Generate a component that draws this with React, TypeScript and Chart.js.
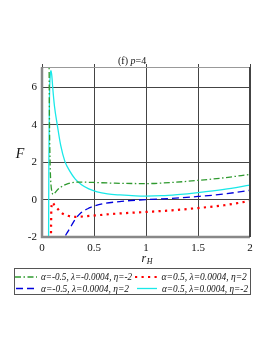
import React, { useEffect, useRef } from "react";
import { Chart, registerables } from "chart.js";

Chart.register(...registerables);

// r_H values and F values for each curve
const rGreen = [0.068, 0.072, 0.077, 0.082, 0.09, 0.1, 0.109, 0.12, 0.14, 0.173, 0.25, 0.365, 0.49, 0.7, 1.0, 1.25, 1.5, 1.75, 2.0];
const fGreen = [7.5, 4.0, 2.2, 1.2, 0.6, 0.33, 0.28, 0.33, 0.47, 0.64, 0.86, 0.94, 0.92, 0.88, 0.86, 0.92, 1.03, 1.17, 1.35];

const rRed = [0.085, 0.09, 0.1, 0.12, 0.141, 0.19, 0.24, 0.3, 0.4, 0.5, 0.72, 1.0, 1.25, 1.5, 1.75, 2.0];
const fRed = [-2.5, -0.5, -0.15, -0.3, -0.43, -0.72, -0.85, -0.92, -0.9, -0.85, -0.75, -0.66, -0.57, -0.45, -0.3, -0.07];

const rBlue = [0.2, 0.221, 0.25, 0.285, 0.32, 0.365, 0.46, 0.5, 0.6, 0.72, 0.85, 1.0, 1.25, 1.5, 1.75, 2.0];
const fBlue = [-2.5, -2.0, -1.7, -1.37, -1.05, -0.75, -0.43, -0.34, -0.2, -0.12, -0.05, 0.0, 0.07, 0.17, 0.3, 0.5];

const rCyan = [0.063, 0.066, 0.072, 0.08, 0.087, 0.095, 0.103, 0.12, 0.147, 0.18, 0.22, 0.27, 0.32, 0.38, 0.45, 0.53, 0.63, 0.75, 0.9, 1.0, 1.15, 1.3, 1.5, 1.75, 2.0];
const fCyan = [-2.5, 2.0, 5.5, 6.7, 6.9, 6.6, 6.0, 5.0, 4.0, 2.9, 2.05, 1.5, 1.1, 0.8, 0.58, 0.42, 0.31, 0.25, 0.2, 0.19, 0.21, 0.27, 0.38, 0.55, 0.78];

const xTicks = [0, 0.5, 1, 1.5, 2];
const yTicks = [-2, 0, 2, 4, 6];
const xMin = 0;
const xMax = 2;
const yMin = -2;
const yMax = 7.1;

const legendLabels = [
  "α=-0.5, λ=-0.0004, η=-2",
  "α=0.5, λ=0.0004, η=2",
  "α=-0.5, λ=0.0004, η=2",
  "α=0.5, λ=0.0004, η=-2",
];

const GREEN = "#2f9a2f";
const RED = "#ff0000";
const BLUE = "#0000dd";
const CYAN = "#19e8e8";

const SERIF = "'Liberation Serif', 'DejaVu Serif', serif";

const toPts = (xs: number[], ys: number[]) => xs.map((x, i) => ({ x, y: ys[i] }));

export default function App() {
  const ref = useRef<HTMLCanvasElement | null>(null);

  useEffect(() => {
    const canvas = ref.current;
    if (!canvas) return;

    const styles = [
      { color: GREEN, dash: [6, 2.5, 1.5, 2.5], width: 1.3 },
      { color: RED, dash: [2.2, 4.3], width: 2.2 },
      { color: BLUE, dash: [7, 4], width: 1.3 },
      { color: CYAN, dash: [], width: 1.3 },
    ];

    const decor = {
      id: "decor",
      afterDatasetsDraw(chart: any) {
        const ctx = chart.ctx;
        const a = chart.chartArea;
        const xs = chart.scales.x;
        ctx.save();
        ctx.strokeStyle = "#444";
        ctx.lineWidth = 1;
        xTicks.forEach((t) => {
          const px = Math.round(xs.getPixelForValue(t)) + 0.5;
          ctx.beginPath();
          ctx.moveTo(px, a.top - 3);
          ctx.lineTo(px, a.top);
          ctx.stroke();
        });
        ctx.strokeStyle = "#999";
        ctx.lineWidth = 1;
        ctx.beginPath();
        ctx.moveTo(a.left, a.top + 0.5);
        ctx.lineTo(a.right, a.top + 0.5);
        ctx.stroke();
        ctx.strokeStyle = "#888";
        ctx.lineWidth = 2.5;
        ctx.beginPath();
        ctx.moveTo(a.left, a.top);
        ctx.lineTo(a.left, a.bottom);
        ctx.lineTo(a.right, a.bottom);
        ctx.stroke();
        ctx.strokeStyle = "#444";
        ctx.lineWidth = 2;
        ctx.beginPath();
        ctx.moveTo(a.right, a.top);
        ctx.lineTo(a.right, a.bottom);
        ctx.stroke();
        ctx.restore();
      },
      afterDraw(chart: any) {
        const ctx = chart.ctx;
        ctx.save();
        ctx.fillStyle = "#111";
        ctx.textBaseline = "alphabetic";
        let x = 118;
        const ty = 64;
        ctx.font = `10px ${SERIF}`;
        ctx.fillText("(f) ", x, ty);
        x += ctx.measureText("(f) ").width;
        ctx.font = `italic 10px ${SERIF}`;
        ctx.fillText("p", x, ty);
        x += ctx.measureText("p").width;
        ctx.font = `10px ${SERIF}`;
        ctx.fillText("=4", x, ty);
        ctx.font = `italic 14px ${SERIF}`;
        ctx.textAlign = "center";
        ctx.fillText("F", 20, 158);
        ctx.textAlign = "left";
        ctx.font = `italic 12px ${SERIF}`;
        ctx.fillText("r", 141.5, 262);
        const rw = ctx.measureText("r").width;
        ctx.font = `italic 8px ${SERIF}`;
        ctx.fillText("H", 141.5 + rw + 0.5, 264);

        ctx.strokeStyle = "#555";
        ctx.lineWidth = 1;
        ctx.strokeRect(14.5, 268.5, 236, 26);
        const rows = [
          { y: 277, items: [{ s: 0, x0: 15, x1: 37, tx: 41, w: 91 }, { s: 1, x0: 135, x1: 158, tx: 161.5, w: 86 }] },
          { y: 288.5, items: [{ s: 2, x0: 16, x1: 37, tx: 41, w: 88 }, { s: 3, x0: 137, x1: 157, tx: 162, w: 86 }] },
        ];
        let li = 0;
        rows.forEach((row) => {
          row.items.forEach((it) => {
            const st = styles[it.s];
            ctx.strokeStyle = st.color;
            ctx.lineWidth = st.width;
            ctx.setLineDash(st.dash);
            ctx.beginPath();
            ctx.moveTo(it.x0, row.y);
            ctx.lineTo(it.x1, row.y);
            ctx.stroke();
            ctx.setLineDash([]);
            ctx.fillStyle = "#111";
            ctx.font = `italic 9.5px ${SERIF}`;
            ctx.textBaseline = "middle";
            ctx.fillText(legendLabels[li], it.tx, row.y + 0.5, it.w);
            li++;
          });
        });
        ctx.restore();
      },
    };

    const sets = [
      [rGreen, fGreen],
      [rRed, fRed],
      [rBlue, fBlue],
      [rCyan, fCyan],
    ];

    const chart = new Chart(canvas, {
      type: "line",
      data: {
        datasets: sets.map(([xs, ys], i) => ({
          label: legendLabels[i],
          data: toPts(xs as number[], ys as number[]),
          borderColor: styles[i].color,
          borderWidth: styles[i].width,
          borderDash: styles[i].dash,
          pointRadius: 0,
          fill: false,
          cubicInterpolationMode: "monotone" as const,
        })),
      },
      options: {
        animation: false,
        responsive: false,
        devicePixelRatio: 1,
        layout: { padding: { top: 67, right: 23, left: 0, bottom: 0 } },
        plugins: {
          legend: { display: false },
          title: { display: false },
          tooltip: { enabled: false },
        },
        scales: {
          x: {
            type: "linear",
            min: xMin,
            max: xMax,
            afterBuildTicks: (s: any) => {
              s.ticks = xTicks.map((v) => ({ value: v }));
            },
            afterFit: (s: any) => {
              s.height = 116;
            },
            grid: { color: "#444", lineWidth: 1, drawTicks: false },
            border: { display: false },
            ticks: {
              padding: 5,
              color: "#111",
              font: { family: SERIF, size: 11 },
              maxRotation: 0,
              callback: (v: any) => String(v),
            },
          },
          y: {
            type: "linear",
            min: yMin,
            max: yMax,
            afterBuildTicks: (s: any) => {
              s.ticks = yTicks.map((v) => ({ value: v }));
            },
            afterFit: (s: any) => {
              s.width = 42;
            },
            grid: { color: "#444", lineWidth: 1, drawTicks: false },
            border: { display: false },
            ticks: {
              padding: 5,
              color: "#111",
              font: { family: SERIF, size: 11 },
              callback: (v: any) => String(v),
            },
          },
        },
      },
      plugins: [decor],
    } as any);

    return () => chart.destroy();
  }, []);

  return (
    <div style={{ position: "fixed", left: 0, top: 0, width: 273, height: 353, background: "#fff" }}>
      <canvas ref={ref} width={273} height={353} style={{ width: 273, height: 353, display: "block" }} />
    </div>
  );
}
